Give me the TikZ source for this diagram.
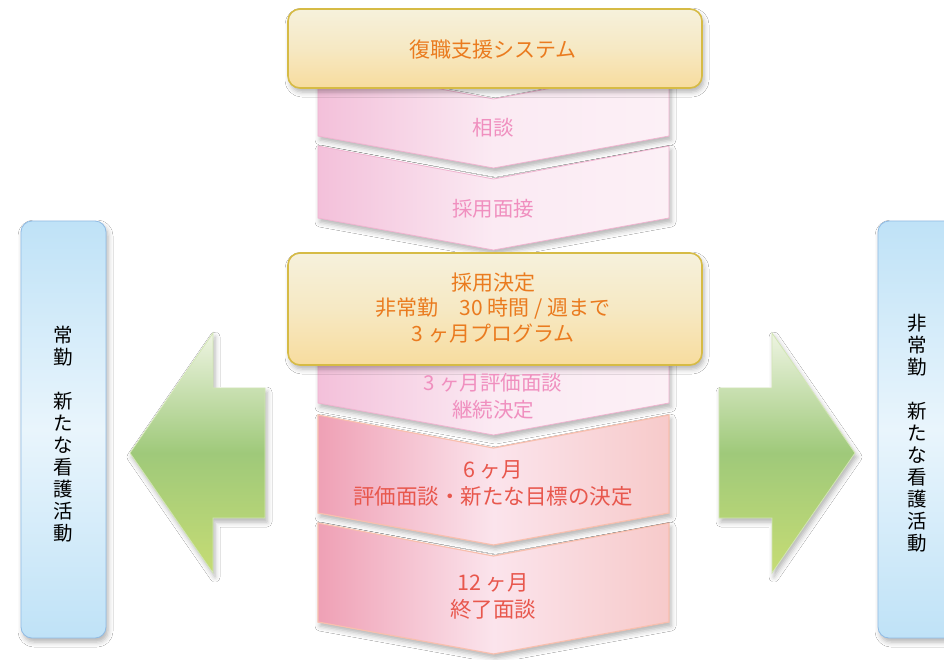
\documentclass[tikz,border=0pt]{standalone}
\usepackage{fontspec}
\setmainfont{Noto Sans CJK JP}
\usetikzlibrary{shadows.blur}
\definecolor{goldedge}{HTML}{D6BB45}
\definecolor{goldtop}{HTML}{F6F1DC}
\definecolor{goldbot}{HTML}{F7DC9E}
\definecolor{orangetxt}{HTML}{EA7B1F}
\definecolor{pinkedge}{HTML}{F0B4D0}
\definecolor{pinkL}{HTML}{F3C0DA}
\definecolor{pinkM}{HTML}{FBEAF3}
\definecolor{pinkR}{HTML}{FCF0F6}
\definecolor{pinktxt}{HTML}{F08FBF}
\definecolor{redL}{HTML}{EFA0B5}
\definecolor{redM}{HTML}{FBE4EC}
\definecolor{redR}{HTML}{F7CACA}
\definecolor{rededge}{HTML}{F8BFAE}
\definecolor{redtxt}{HTML}{E8574D}
\definecolor{blueedge}{HTML}{8FBBE5}
\definecolor{blueA}{HTML}{BFE2F7}
\definecolor{blueB}{HTML}{E9F5FC}
\definecolor{greenedge}{HTML}{D2E6B4}
\definecolor{greenA}{HTML}{EEF4E2}
\definecolor{greenB}{HTML}{9FC97A}
\definecolor{greenC}{HTML}{C6DC74}
\newcommand\chevshape[3]{\path[#1] (318,#2) -- (493.5,{#2+33}) -- (669,#2) -- (669,#3) -- (493.5,{#3+32}) -- (318,#3) -- cycle;}
\tikzset{
  shad/.style={blur shadow={shadow xshift=2pt, shadow yshift=-4pt, shadow blur radius=5pt, shadow opacity=30}},
  chevpale/.style={shad, draw=pinkedge, line width=0.8pt, left color=pinkL, right color=pinkR, middle color=pinkM},
  chevred/.style={shad, draw=rededge, line width=1.2pt, left color=redL, right color=redR, middle color=redM},
  goldbox/.style={shad, draw=goldedge, line width=1.6pt, rounded corners=12pt, top color=goldtop, bottom color=goldbot, middle color=goldtop!60!goldbot},
  bluebox/.style={shad, draw=blueedge, line width=0.8pt, rounded corners=11pt, top color=blueA, bottom color=blueA, middle color=blueB},
  greenarrow/.style={shad, draw=greenedge, line width=0.8pt, top color=greenA, bottom color=greenC, middle color=greenB},
  pinktext/.style={text=pinktxt, font=\fontsize{20.5}{27}\selectfont, align=center},
  redtext/.style={text=redtxt, font=\fontsize{21.5}{27}\selectfont, align=center},
  goldtext/.style={text=orangetxt, font=\fontsize{21}{25.5}\selectfont, align=center},
  verttext/.style={text=black, font=\fontsize{19.5}{22}\selectfont, align=center},
}
\begin{document}
\begin{tikzpicture}[x=1pt,y=-1pt]
\useasboundingbox (0,0) rectangle (944,659);
\clip (0,0) rectangle (944,659);
\fill[white] (0,0) rectangle (944,659);
% chevrons, bottom to top
\chevshape{chevred}{523}{622}
\chevshape{chevred}{415}{513}
\chevshape{chevpale}{300}{403}
\chevshape{chevpale}{146}{218}
\chevshape{chevpale}{66}{136}
% gold boxes
\path[goldbox] (288,9) rectangle (702,88);
\path[goldbox] (288,253) rectangle (702,365);
\node[goldtext] (sys) at (493,50) {復職支援システム};
\node[goldtext] (dec) at (493,308) {採用決定\\非常勤　30 時間 / 週まで\\3 ヶ月プログラム};
% chevron texts
\node[pinktext] (c1) at (493,128) {相談};
\node[pinktext] (c2) at (493,209) {採用面接};
\node[pinktext] (c3) at (493,396.5) {3 ヶ月評価面談\\継続決定};
\node[redtext] (c4) at (493,483.5) {6 ヶ月\\評価面談・新たな目標の決定};
\node[redtext] (c5) at (493,596.5) {12 ヶ月\\終了面談};
% blue boxes
\path[bluebox] (21,221) rectangle (106,638);
\path[bluebox] (878,221) rectangle (990,638);
\node[verttext] (lt) at (63,434) {常\\勤\\　\\新\\た\\な\\看\\護\\活\\動};
\node[verttext] (rt) at (917,433.5) {非\\常\\勤\\　\\新\\た\\な\\看\\護\\活\\動};
% green arrows
\path[greenarrow] (130,453) -- (213,333) -- (213,388) -- (265,388) -- (265,518) -- (213,518) -- (213,573) -- cycle;
\path[greenarrow] (855,453) -- (772,333) -- (772,388) -- (719,388) -- (719,518) -- (772,518) -- (772,573) -- cycle;
\end{tikzpicture}
\end{document}
